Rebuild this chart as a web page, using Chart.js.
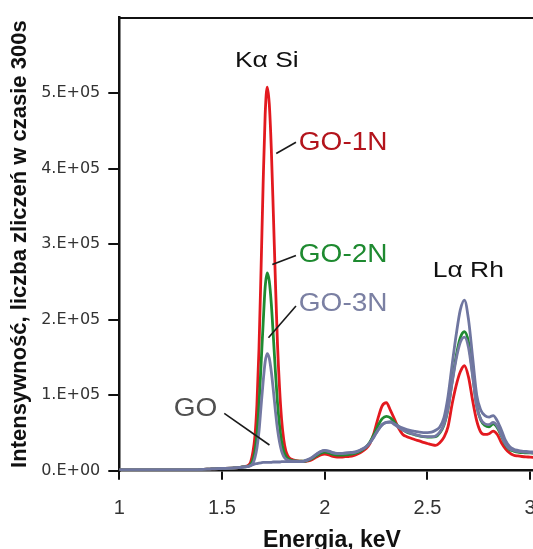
<!DOCTYPE html>
<html>
<head>
<meta charset="utf-8">
<script src="https://cdn.jsdelivr.net/npm/chart.js@4/dist/chart.umd.min.js"></script>
<style>
  html, body { margin: 0; padding: 0; overflow: hidden; background: #fff; }
  #wrap { position: relative; width: 553px; height: 560px; }
</style>
</head>
<body>
<div id="wrap"><canvas id="widmo" width="553" height="560"></canvas></div>
<script>
// energia [keV] - wspolna os dla wszystkich widm
const energy = [
  1.00, 1.10, 1.20, 1.30, 1.40, 1.45, 1.50, 1.55, 1.58,
  1.59, 1.60, 1.61, 1.62, 1.63, 1.64, 1.65, 1.66, 1.67, 1.68,
  1.69, 1.70, 1.71, 1.72, 1.73, 1.74, 1.75, 1.76, 1.77, 1.78,
  1.79, 1.80, 1.81, 1.82, 1.83, 1.84, 1.85, 1.86, 1.87, 1.88, 1.89,
  1.90, 1.92, 1.94, 1.96, 1.98, 2.00, 2.02, 2.04, 2.06, 2.08,
  2.10, 2.12, 2.14, 2.16, 2.18, 2.20, 2.22, 2.24, 2.26, 2.28,
  2.30, 2.32, 2.34, 2.36, 2.38, 2.40, 2.42, 2.44, 2.46, 2.48,
  2.50, 2.52, 2.54, 2.56, 2.58, 2.60, 2.62, 2.64, 2.66, 2.68,
  2.70, 2.72, 2.74, 2.76, 2.78, 2.80, 2.82, 2.84, 2.86, 2.88,
  2.90, 2.92, 2.94, 2.96, 2.98, 3.00, 3.02, 3.04, 3.06
];

// intensywnosc w tysiacach zliczen (300 s)
const go1n = [
  1, 1, 1, 1, 1.5, 2.5, 3, 3.5, 4,
  4.5, 5, 5.5, 6, 7.5, 12, 24, 45, 88, 162,
  266, 378, 471, 508, 486, 426, 340, 250, 168, 110,
  68, 42, 27, 20, 16.5, 15, 14, 13.5, 13, 12.5, 12.5,
  12, 13, 15, 18, 21, 22, 21, 19, 18, 18,
  18.5, 19, 20, 22, 25, 29, 36, 50, 70, 86,
  90, 80, 68, 56, 48, 45, 43, 41, 39.5, 37.5,
  36, 34.5, 33.5, 37, 44, 58, 88, 113, 131, 139,
  124, 93, 66, 51, 48, 49, 52.5, 48, 37, 29,
  23.5, 20.5, 19.5, 18.8, 18.3, 18, 17.5, 17, 17
];
const go2n = [
  1, 1, 1, 1, 1.5, 2.5, 3, 3.5, 4,
  4.5, 5, 5, 5.5, 6.2, 8.5, 14, 25, 48, 87,
  140, 194, 243, 262, 251, 221, 177, 131, 90, 60,
  39, 26, 19.5, 16, 14.5, 13.5, 13, 13, 12.5, 12.5, 12.5,
  12.5, 14, 16.5, 20, 23, 24.5, 23.5, 21.5, 20.5, 20.5,
  21, 21.5, 22.5, 24, 27, 31, 38, 48, 60, 69,
  72, 70, 64, 58, 54, 51, 49, 47.5, 46, 45,
  44.5, 44.5, 45, 50, 60, 82, 118, 152, 176, 184,
  170, 128, 86, 67, 60, 58, 62, 57, 46, 34,
  28, 26, 24.5, 24, 23.5, 23.5, 23, 22.5, 22
];
const go3n = [
  1, 1, 1, 1, 1.5, 2.5, 3, 3.5, 4,
  4.5, 5, 5, 5.2, 5.6, 6.8, 9.5, 17, 30, 52,
  85, 117, 144, 155, 149, 131, 106, 79, 55, 38,
  26, 19, 15.5, 14, 13, 12.5, 12.5, 12.5, 12, 12, 12,
  12.5, 14.5, 17.5, 21.5, 25, 26.5, 25.5, 23.5, 22.5, 22.5,
  23, 23.5, 24, 25.5, 28, 31, 37, 45, 54, 61,
  64, 64.5, 61, 57, 54, 51.5, 49.5, 48, 46.5, 45.5,
  45, 45, 46, 51, 61, 82, 116, 148, 170, 177,
  163, 125, 85, 68, 62, 61, 64, 59, 47, 35,
  29, 27, 25.5, 25, 24.5, 24, 23.5, 23, 22.5
];
const go = [
  1, 1, 1, 1, 1.5, 2.5, 3, 3.5, 4,
  4, 4.5, 5, 5.5, 6, 7, 8, 9, 9.5, 10,
  10.5, 11, 11, 11, 11, 11, 11.5, 11.5, 11.5, 11.5,
  12, 12, 12, 12, 12, 12, 12, 12, 12, 12, 12,
  13, 15, 18, 22, 25.5, 27, 26, 24, 23, 23,
  23.5, 24, 24.5, 26, 28.5, 31.5, 37, 45, 54, 61,
  64, 64.5, 62, 59, 56.5, 54.5, 53, 52, 51, 50.5,
  50.5, 51, 53.5, 58, 70, 98, 140, 180, 213, 226,
  200, 150, 100, 80, 73, 71, 73, 66, 54, 40,
  32, 28.5, 27, 26, 25.5, 25, 24.5, 24, 23.5
];

const xTicks = [1, 1.5, 2, 2.5, 3];
const xTickLabels = ['1', '1.5', '2', '2.5', '3'];
const yTicks = [0, 100, 200, 300, 400, 500];
const yTickLabels = ['0.E+00', '1.E+05', '2.E+05', '3.E+05', '4.E+05', '5.E+05'];

// opisy na wykresie (energia, tys. zliczen)
const notes = [
  { text: 'K\u03b1 Si', e: 1.718, v: 542, color: '#111', size: 22, sx: 1.2, align: 'center' },
  { text: 'GO-1N', e: 1.874, v: 434, color: '#b3141c', size: 25, sx: 1.12, align: 'left' },
  { text: 'GO-2N', e: 1.874, v: 285, color: '#1e8a30', size: 25, sx: 1.12, align: 'left' },
  { text: 'GO-3N', e: 1.874, v: 220, color: '#7b80a3', size: 25, sx: 1.12, align: 'left' },
  { text: 'GO', e: 1.371, v: 82, color: '#505050', size: 25, sx: 1.12, align: 'center' },
  { text: 'L\u03b1 Rh', e: 2.699, v: 264, color: '#111', size: 22, sx: 1.2, align: 'center' }
];
const leaders = [
  [1.764, 420, 1.860, 435],
  [1.745, 273, 1.860, 285],
  [1.726, 176, 1.860, 218],
  [1.511, 76, 1.731, 34]
];

const FONT = '"Liberation Sans", Arial, sans-serif';

const notesPlugin = {
  id: 'notes',
  afterDatasetsDraw(chart) {
    const { ctx, scales: { x, y } } = chart;
    ctx.save();
    ctx.strokeStyle = '#1a1a1a';
    ctx.lineWidth = 1.6;
    leaders.forEach(l => {
      ctx.beginPath();
      ctx.moveTo(x.getPixelForValue(l[0]), y.getPixelForValue(l[1]));
      ctx.lineTo(x.getPixelForValue(l[2]), y.getPixelForValue(l[3]));
      ctx.stroke();
    });
    notes.forEach(n => {
      ctx.save();
      ctx.translate(x.getPixelForValue(n.e), y.getPixelForValue(n.v));
      ctx.scale(n.sx, 1);
      ctx.font = n.size + 'px ' + FONT;
      ctx.fillStyle = n.color;
      ctx.textAlign = n.align;
      ctx.textBaseline = 'middle';
      ctx.fillText(n.text, 0, 0);
      ctx.restore();
    });
    ctx.restore();
  }
};

const pts = arr => energy.map((e, i) => ({ x: e, y: arr[i] }));

new Chart(document.getElementById('widmo'), {
  type: 'line',
  data: {
    datasets: [
      { label: 'GO', data: pts(go), borderColor: '#6f76a0' },
      { label: 'GO-3N', data: pts(go3n), borderColor: '#7479a3' },
      { label: 'GO-2N', data: pts(go2n), borderColor: '#1f8b31' },
      { label: 'GO-1N', data: pts(go1n), borderColor: '#e3191f' }
    ]
  },
  options: {
    responsive: false,
    animation: false,
    devicePixelRatio: 1,
    layout: { padding: 0 },
    plugins: { legend: { display: false }, tooltip: { enabled: false } },
    elements: {
      point: { radius: 0 },
      line: { borderWidth: 2.8, cubicInterpolationMode: 'monotone', fill: false }
    },
    scales: {
      x: {
        type: 'linear', min: 1, max: 3.07,
        afterBuildTicks: s => { s.ticks = xTicks.map(v => ({ value: v })); },
        afterFit: s => { s.height = 89.3; },
        grid: { drawOnChartArea: false, tickLength: 9, color: '#111', lineWidth: 2 },
        border: { color: '#111', width: 2.5 },
        ticks: {
          font: { family: FONT, size: 20 }, color: '#333', padding: 17, maxRotation: 0,
          callback: (v, i) => xTickLabels[i]
        },
        title: {
          display: true, text: 'Energia, keV', color: '#111',
          font: { family: FONT, size: 23, weight: 'bold' }, padding: { top: 0, bottom: 6 }
        }
      },
      x2: {
        type: 'linear', position: 'top', min: 1, max: 3.07,
        afterFit: s => { s.height = 15.7; },
        grid: { display: false }, ticks: { display: false },
        border: { color: '#111', width: 2 }
      },
      y: {
        type: 'linear', min: 0, max: 600,
        afterBuildTicks: s => { s.ticks = yTicks.map(v => ({ value: v })); },
        afterFit: s => { s.width = 119.3; },
        grid: { drawOnChartArea: false, tickLength: 11, color: '#111', lineWidth: 2 },
        border: { color: '#111', width: 2.5 },
        ticks: {
          font: { family: '"DejaVu Sans", sans-serif', size: 16 }, color: '#333', padding: 8,
          callback: (v, i) => yTickLabels[i]
        },
        title: {
          display: true, text: 'Intensywność, liczba zliczeń w czasie 300s', color: '#111',
          font: { family: FONT, size: 22, weight: 'bold' }, padding: { top: 7, bottom: 0 }
        }
      }
    }
  },
  plugins: [notesPlugin]
});
</script>
</body>
</html>
